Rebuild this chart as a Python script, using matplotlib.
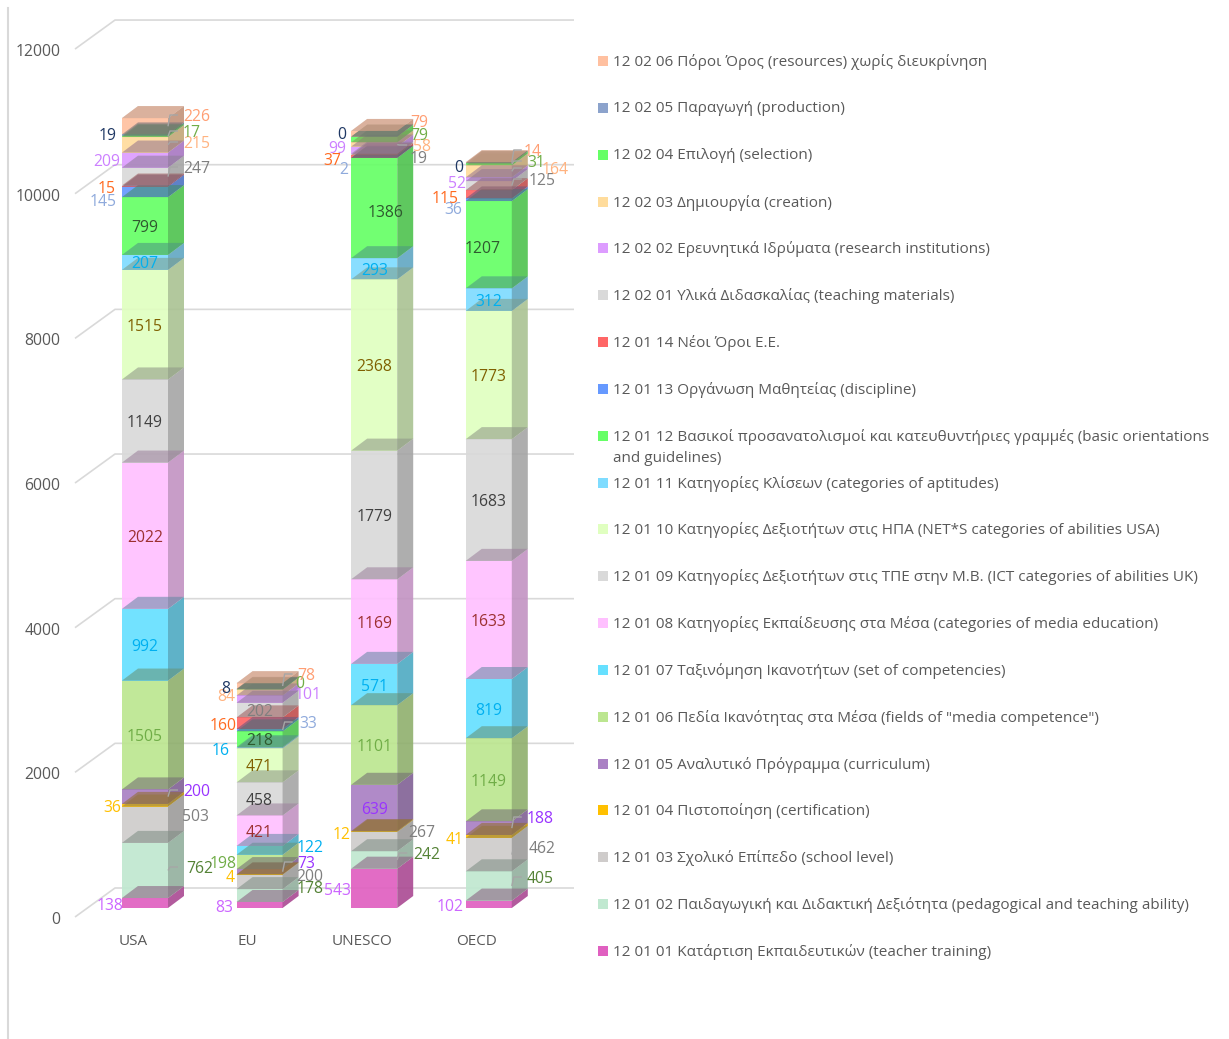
import matplotlib
matplotlib.use("Agg")
import matplotlib.pyplot as plt
import numpy as np
from matplotlib.lines import Line2D
from matplotlib.patches import Polygon, Rectangle
from matplotlib.colors import to_rgb

plt.rcParams['font.family'] = ['Open Sans', 'DejaVu Sans']

categories = ['USA', 'EU', 'UNESCO', 'OECD']

# series order: bottom of the stack first (12 01 01 ... 12 02 06)
usa = [138, 762, 503, 36, 200, 1505, 992, 2022, 1149, 1515, 207, 799, 145, 15, 247, 209, 215, 17, 19, 226]
eu = [83, 178, 200, 4, 73, 198, 122, 421, 458, 471, 16, 218, 33, 160, 202, 101, 84, 0, 8, 78]
unesco = [543, 242, 267, 12, 639, 1101, 571, 1169, 1779, 2368, 293, 1386, 2, 37, 19, 99, 58, 79, 0, 79]
oecd = [102, 405, 462, 41, 188, 1149, 819, 1633, 1683, 1773, 312, 1207, 36, 115, 125, 52, 164, 31, 0, 14]

series_names = [
    '12 01 01 Κατάρτιση Εκπαιδευτικών (teacher training)',
    '12 01 02 Παιδαγωγική και Διδακτική Δεξιότητα (pedagogical and teaching ability)',
    '12 01 03 Σχολικό Επίπεδο (school level)',
    '12 01 04 Πιστοποίηση (certification)',
    '12 01 05 Αναλυτικό Πρόγραμμα (curriculum)',
    '12 01 06 Πεδία Ικανότητας στα Μέσα (fields of "media competence")',
    '12 01 07 Ταξινόμηση Ικανοτήτων (set of competencies)',
    '12 01 08 Κατηγορίες Εκπαίδευσης στα Μέσα (categories of media education)',
    '12 01 09 Κατηγορίες Δεξιοτήτων στις ΤΠΕ στην Μ.Β. (ICT categories of abilities UK)',
    '12 01 10 Κατηγορίες Δεξιοτήτων στις ΗΠΑ (NET*S categories of abilities USA)',
    '12 01 11 Κατηγορίες Κλίσεων (categories of aptitudes)',
    '12 01 12 Βασικοί προσανατολισμοί και κατευθυντήριες γραμμές (basic orientations\nand guidelines)',
    '12 01 13 Οργάνωση Μαθητείας (discipline)',
    '12 01 14 Νέοι Όροι Ε.Ε.',
    '12 02 01 Υλικά Διδασκαλίας (teaching materials)',
    '12 02 02 Ερευνητικά Ιδρύματα (research institutions)',
    '12 02 03 Δημιουργία (creation)',
    '12 02 04 Επιλογή (selection)',
    '12 02 05 Παραγωγή (production)',
    '12 02 06 Πόροι Όρος (resources) χωρίς διευκρίνηση',
]

colors = ['#e060c0', '#c0e8d0', '#cfcccb', '#ffc000', '#aa80c4', '#bce690', '#66e0ff', '#ffc0ff', '#d9d9d9', '#e0ffc0',
          '#7fdcff', '#66ff66', '#6699ff', '#ff6666', '#d9d9d9', '#dd9cff', '#ffdc9c', '#66ff66', '#8ca3cc', '#ffc0a0']
label_colors = ['#cc66ff', '#548235', '#7f7f7f', '#ffc000', '#9933ff', '#70ad47', '#00b0f0', '#9c3030', '#404040', '#7f6000',
                '#00b0f0', '#2f5a2f', '#8faadc', '#ff6a20', '#7f7f7f', '#cc80ff', '#ffb380', '#70ad47', '#1f3864', '#ff9e73']

yticks = [0, 2000, 4000, 6000, 8000, 10000, 12000]

# pixel layout of the picture
W, H = 1229, 1039
BASE_PX, PX_PER_VAL = 908, 0.07233
BAR0_PX, STEP_PX = 145, 114.6
AX_L, AX_R, AX_T, AX_B = 66, 590, 10, 925

# labels that sit off the bar: (bar, series) -> text centre in px
label_pos = {
    (0, 0): (110, 904), (0, 1): (200, 867), (0, 2): (195, 815), (0, 3): (112, 806), (0, 4): (197, 790),
    (0, 12): (103, 200), (0, 13): (107, 187), (0, 14): (197, 167), (0, 15): (107, 160), (0, 16): (197, 142),
    (0, 17): (192, 131), (0, 18): (108, 134), (0, 19): (197, 115),
    (1, 0): (224, 906), (1, 1): (310, 887), (1, 2): (310, 875), (1, 3): (230, 876), (1, 4): (306, 862),
    (1, 5): (223, 862), (1, 6): (310, 846), (1, 10): (221, 749), (1, 12): (308, 722), (1, 13): (223, 724),
    (1, 15): (308, 693), (1, 16): (226, 695), (1, 17): (300, 682), (1, 18): (226, 687), (1, 19): (306, 674),
    (2, 0): (337, 889), (2, 1): (427, 853), (2, 2): (422, 831), (2, 3): (342, 833), (2, 11): (386, 211),
    (2, 12): (344, 168), (2, 13): (332, 159), (2, 14): (419, 157), (2, 15): (337, 147), (2, 16): (422, 145),
    (2, 17): (419, 134), (2, 18): (342, 133), (2, 19): (419, 121),
    (3, 0): (450, 905), (3, 1): (540, 877), (3, 2): (542, 847), (3, 3): (455, 838), (3, 4): (540, 817),
    (3, 11): (483, 247), (3, 12): (453, 208), (3, 13): (445, 197), (3, 14): (542, 179), (3, 15): (457, 182),
    (3, 16): (555, 168), (3, 17): (536, 161), (3, 18): (459, 166), (3, 19): (533, 150),
}
# which off-bar labels get an elbow leader
leaders = [(0, 1), (0, 4), (0, 14), (0, 16), (0, 17), (0, 19), (1, 4), (1, 12), (1, 19),
           (2, 1), (2, 16), (3, 1), (3, 2), (3, 4), (3, 14), (3, 16), (3, 17), (3, 19)]
LABEL_SHIFT_PX = 2


def fx(px):
    return px / W


def fy(py):
    return 1 - py / H


def dark(c, k):
    return tuple(v * k for v in to_rgb(c))


fig = plt.figure(figsize=(W / 100, H / 100), dpi=100, facecolor='white')
ax = fig.add_axes([fx(AX_L), fy(AX_B), fx(AX_R - AX_L), (AX_B - AX_T) / H])
ax.set_xlim((AX_L - BAR0_PX) / STEP_PX, (AX_R - BAR0_PX) / STEP_PX)
ax.set_ylim((BASE_PX - AX_B) / PX_PER_VAL, (BASE_PX - AX_T) / PX_PER_VAL)
for s in ax.spines.values():
    s.set_visible(False)
ax.patch.set_visible(False)

# sizes in data units
bar_w = 46 / STEP_PX
dx = 16 / STEP_PX
dy = 12 / PX_PER_VAL
tick_drop = 9 / PX_PER_VAL
back_rise = 20 / PX_PER_VAL

# walls: gridlines run along the floor side then over the back
grid_x = [(75 - BAR0_PX) / STEP_PX, (115 - BAR0_PX) / STEP_PX, (574 - BAR0_PX) / STEP_PX]
for t in yticks:
    ax.plot(grid_x, [t - tick_drop, t + back_rise, t + back_rise], color='#d9d9d9', lw=1.2, zorder=1,
            clip_on=False, solid_capstyle='butt')

ax.set_yticks([t - tick_drop - 1 / PX_PER_VAL for t in yticks], [str(t) for t in yticks])
ax.set_xticks([i - 12 / STEP_PX for i in range(4)], categories)
ax.tick_params(axis='both', length=0, labelcolor='#595959', labelsize=11)
ax.tick_params(axis='y', pad=4, labelsize=11.3)
ax.tick_params(axis='x', pad=6.5)

data = np.array([usa, eu, unesco, oecd], dtype=float)
xs = np.arange(4)
bottoms = np.zeros(4)
z = 2
for j in range(data.shape[1]):
    vals = data[:, j]
    ax.bar(xs, vals, bottom=bottoms, width=bar_w, color=colors[j], alpha=0.92, lw=0, zorder=z)
    for i in range(4):
        xr = xs[i] + bar_w / 2
        b, t = bottoms[i], bottoms[i] + vals[i]
        ax.add_patch(Polygon([(xr, b), (xr + dx, b + dy), (xr + dx, t + dy), (xr, t)],
                             fc=dark(colors[j], 0.76), alpha=0.9, lw=0, zorder=z))
    bottoms = bottoms + vals
    z += 1

# the planes between blocks: top of the lower block, then bottom of the upper one
bottoms = np.zeros(4)
nser = data.shape[1]
for j in range(nser):
    bottoms = bottoms + data[:, j]
    for i in range(4):
        xl = xs[i] - bar_w / 2
        xr = xs[i] + bar_w / 2
        t = bottoms[i]
        plane = [(xl, t), (xr, t), (xr + dx, t + dy), (xl + dx, t + dy)]
        ax.add_patch(Polygon(plane, fc=dark(colors[j], 0.7), alpha=0.45, lw=0, zorder=50))
        above = colors[j + 1] if j + 1 < nser else colors[j]
        a = 0.25 if j + 1 < nser else 0.6
        ax.add_patch(Polygon(plane, fc=dark(above, 0.6 if j + 1 < nser else 0.85), alpha=a, lw=0, zorder=50))

# value labels and leaders
cum = np.cumsum(data, axis=1)
for i in range(4):
    for j in range(nser):
        mid = cum[i, j] - data[i, j] / 2
        if (i, j) in label_pos:
            px, py = label_pos[(i, j)]
            xd = (px - BAR0_PX) / STEP_PX
            yd = (BASE_PX - py) / PX_PER_VAL
        else:
            xd, yd = i, mid
        ax.text(xd, yd - LABEL_SHIFT_PX / PX_PER_VAL, f'{int(data[i, j])}', color=label_colors[j], fontsize=11.3,
                ha='center', va='center', zorder=60, clip_on=False)
        if (i, j) in leaders:
            xr = i + bar_w / 2
            ax.plot([xr + 10 / STEP_PX, xr + 2 / STEP_PX, xr], [yd, yd, mid], color='#a6a6a6', lw=1, zorder=55,
                    solid_capstyle='butt')

# left border of the chart area
fig.add_artist(Line2D([fx(8), fx(8)], [fy(8), fy(1039)], color='#d9d9d9', lw=1.5, transform=fig.transFigure))

# legend, top row is the last series
for k in range(20):
    j = 19 - k
    y = 61 + 46.84 * k
    fig.add_artist(Rectangle((fx(598), fy(y + 5)), 10 / W, 10 / H, transform=fig.transFigure, fc=colors[j], lw=0))
    fig.text(fx(613), fy(y - 7), series_names[j], color='#595959', fontsize=11, ha='left', va='top', linespacing=1.55)

fig.savefig('out.png', dpi=100)
